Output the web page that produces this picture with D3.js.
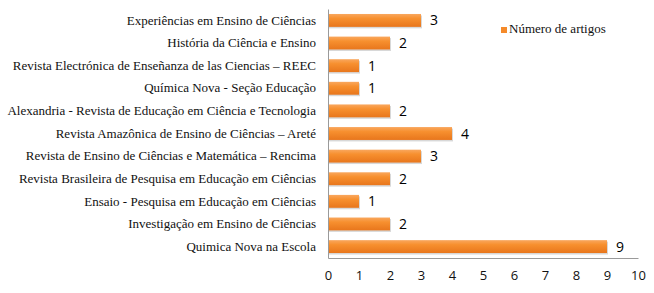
<!DOCTYPE html>
<html>
<head>
<meta charset="utf-8">
<script src="https://cdn.jsdelivr.net/npm/d3@7"></script>
<style>
  body { margin: 0; background: #fff; }
  .serif { font-family: 'Liberation Serif', 'Times New Roman', Times, serif; }
  .num { font-family: 'Open Sans', sans-serif; }
</style>
</head>
<body>
<div id="chart"></div>
<script>
// journals, top to bottom as drawn
const journals = [
  'Experiências em Ensino de Ciências',
  'História da Ciência e Ensino',
  'Revista Electrónica de Enseñanza de las Ciencias – REEC',
  'Química Nova - Seção Educação',
  'Alexandria - Revista de Educação em Ciência e Tecnologia',
  'Revista Amazônica de Ensino de Ciências – Areté',
  'Revista de Ensino de Ciências e Matemática – Rencima',
  'Revista Brasileira de Pesquisa em Educação em Ciências ',
  'Ensaio - Pesquisa em Educação em Ciências',
  'Investigação em Ensino de Ciências',
  'Quimica Nova na Escola'
]
const articles = [3, 2, 1, 1, 2, 4, 3, 2, 1, 2, 9]
const xTicks = [0, 1, 2, 3, 4, 5, 6, 7, 8, 9, 10]
const seriesName = 'Número de artigos'

const width = 654
const height = 293
const x0 = 328
const x1 = 638
const yTop = 9
const yBottom = 258

const svg = d3
  .select('#chart')
  .append('svg')
  .attr('width', width)
  .attr('height', height)

const defs = svg.append('defs')
const grad = defs
  .append('linearGradient')
  .attr('id', 'barGrad')
  .attr('x1', 0)
  .attr('y1', 0)
  .attr('x2', 0)
  .attr('y2', 1)
grad.append('stop').attr('offset', '0%').attr('stop-color', '#f9a75e')
grad.append('stop').attr('offset', '35%').attr('stop-color', '#f7902f')
grad.append('stop').attr('offset', '100%').attr('stop-color', '#e8761c')

const xScale = d3.scaleLinear().domain([0, 10]).range([x0, x1])
const yScale = d3
  .scaleBand()
  .domain(journals)
  .range([yTop, yBottom])
  .paddingInner(0.43)
  .paddingOuter(0.22)

// bar shadows
svg
  .selectAll('.shadow')
  .data(articles)
  .enter()
  .append('rect')
  .attr('x', xScale(0) + 1)
  .attr('y', (d, i) => yScale(journals[i]) + 1.5)
  .attr('width', d => xScale(d) - xScale(0))
  .attr('height', yScale.bandwidth())
  .attr('fill', '#d8d8d8')

svg
  .selectAll('.bar')
  .data(articles)
  .enter()
  .append('rect')
  .attr('class', 'bar')
  .attr('x', xScale(0))
  .attr('y', (d, i) => yScale(journals[i]))
  .attr('width', d => xScale(d) - xScale(0))
  .attr('height', yScale.bandwidth())
  .attr('fill', 'url(#barGrad)')

// value labels
svg
  .selectAll('.val')
  .data(articles)
  .enter()
  .append('text')
  .attr('class', 'num')
  .attr('x', d => xScale(d) + 9)
  .attr('y', (d, i) => yScale(journals[i]) + yScale.bandwidth() / 2)
  .attr('dy', '0.36em')
  .style('font-size', '14px')
  .attr('fill', '#000')
  .text(d => d)

// y axis (category names)
const yAxis = svg
  .append('g')
  .attr('transform', `translate(${x0}, 0)`)
  .call(d3.axisLeft(yScale).tickSize(0).tickPadding(12))
yAxis.attr('font-family', null)
yAxis.select('.domain').attr('stroke', '#9a9a9a')
yAxis
  .selectAll('text')
  .attr('class', 'serif')
  .style('font-size', '13px')
  .attr('fill', '#111')

// x axis
const xAxis = svg
  .append('g')
  .attr('transform', `translate(0, ${yBottom})`)
  .call(d3.axisBottom(xScale).tickValues(xTicks).tickSize(0).tickPadding(13))
xAxis.attr('font-family', null)
xAxis.select('.domain').attr('stroke', '#9a9a9a')
xAxis
  .selectAll('text')
  .attr('class', 'num')
  .style('font-size', '13px')
  .attr('fill', '#111')

// legend
const legend = svg.append('g').attr('transform', 'translate(501, 27)')
legend
  .append('rect')
  .attr('width', 6)
  .attr('height', 6)
  .attr('fill', '#f58a2a')
legend
  .append('text')
  .attr('class', 'serif')
  .attr('x', 8)
  .attr('y', 6)
  .style('font-size', '13px')
  .attr('fill', '#111')
  .text(seriesName)
</script>
</body>
</html>
